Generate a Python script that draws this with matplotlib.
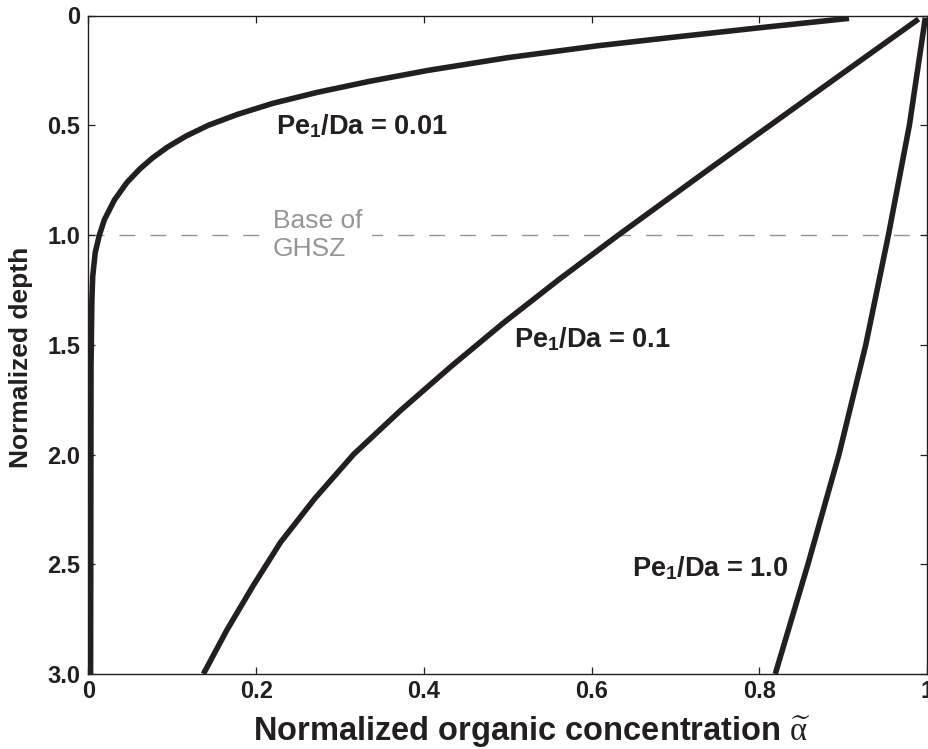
import numpy as np
import matplotlib
matplotlib.use("Agg")
from matplotlib import pyplot as plt

plt.rcParams['font.family'] = 'Liberation Sans'
plt.rcParams['mathtext.fontset'] = 'custom'
plt.rcParams['mathtext.rm'] = 'Liberation Serif'
plt.rcParams['mathtext.it'] = 'Liberation Serif:italic'
plt.rcParams['mathtext.bf'] = 'Liberation Sans:bold'

# curves: normalized depth vs normalized organic concentration
depth_001 = [0.013, 0.056, 0.10, 0.138, 0.192, 0.25, 0.30, 0.35, 0.40, 0.45, 0.50,
             0.55, 0.60, 0.65, 0.70, 0.76, 0.84, 0.93, 1.0, 1.08, 1.19, 1.30, 1.60, 3.0]
alpha_001 = [0.907, 0.80, 0.695, 0.607, 0.50, 0.405, 0.335, 0.273, 0.220, 0.178, 0.143,
             0.116, 0.094, 0.076, 0.061, 0.046, 0.031, 0.019, 0.013, 0.008, 0.005, 0.004,
             0.003, 0.0025]

depth_01 = [0.016, 0.3, 0.5, 0.7, 0.9, 1.0, 1.2, 1.4, 1.6, 1.8, 2.0, 2.2, 2.4, 2.6,
            2.8, 3.0]
alpha_01 = [0.990, 0.886, 0.813, 0.740, 0.668, 0.632, 0.562, 0.495, 0.432, 0.372,
            0.316, 0.270, 0.229, 0.196, 0.165, 0.137]

depth_1 = [0.01, 0.5, 1.0, 1.5, 2.0, 2.5, 3.0]
alpha_1 = [0.998, 0.979, 0.954, 0.927, 0.895, 0.858, 0.819]

xticks = [0, 0.2, 0.4, 0.6, 0.8, 1.0]
xticklabels = ['0', '0.2', '0.4', '0.6', '0.8', '1']
yticks = [0, 0.5, 1.0, 1.5, 2.0, 2.5, 3.0]
yticklabels = ['0', '0.5', '1.0', '1.5', '2.0', '2.5', '3.0']

ghsz_depth = 1.0

ink = '#231f20'
grey = '#939598'

fig = plt.figure(figsize=(9.29, 7.49), dpi=100)
ax = fig.add_axes([88.5 / 929, 1 - 674 / 749, 838.5 / 929, 658.5 / 749])

ax.axhline(ghsz_depth, color=grey, lw=1.0, dashes=(11.5, 10.8), zorder=1)
ax.text(0.22, ghsz_depth, 'Base of\nGHSZ', color=grey, fontsize=19,
        ha='left', va='center', linespacing=1.25,
        bbox=dict(boxstyle='square,pad=0.35', fc='white', ec='none'), zorder=2)

for a, d in [(alpha_001, depth_001), (alpha_01, depth_01), (alpha_1, depth_1)]:
    ax.plot(a, d, color=ink, lw=4.0, solid_capstyle='butt',
            solid_joinstyle='round', zorder=3)

lab_kw = dict(fontsize=19.5, fontweight='bold', color=ink, ha='left', va='baseline')
ax.text(0.224, 0.541, r'Pe$_\mathbf{1}$/Da = 0.01', **lab_kw)
ax.text(0.508, 1.509, r'Pe$_\mathbf{1}$/Da = 0.1', **lab_kw)
ax.text(0.648, 2.553, r'Pe$_\mathbf{1}$/Da = 1.0', **lab_kw)

ax.set_xlim(0, 1)
ax.set_ylim(3, 0)
ax.set_xticks(xticks)
ax.set_xticklabels(xticklabels)
ax.set_yticks(yticks)
ax.set_yticklabels(yticklabels)
ax.tick_params(direction='in', length=5, width=0.9, color=ink, top=True,
               right=True, labelsize=17, labelcolor=ink)
ax.tick_params(axis='x', pad=4)
ax.tick_params(axis='y', pad=6)
for t in ax.get_xticklabels() + ax.get_yticklabels():
    t.set_fontweight('bold')
for s in ax.spines.values():
    s.set_color(ink)
    s.set_linewidth(1.0)

ax.set_xlabel('Normalized organic concentration ' + r'$\widetilde{\mathrm{\alpha}}$',
              fontsize=23.5, fontweight='bold', color=ink, va='baseline')
ax.xaxis.set_label_coords(0.529, -0.1002)
ax.set_ylabel('Normalized depth', fontsize=19, fontweight='bold', color=ink,
              va='baseline')
ax.yaxis.set_label_coords(-0.0718, 0.481)

fig.savefig('out.png', dpi=100)
